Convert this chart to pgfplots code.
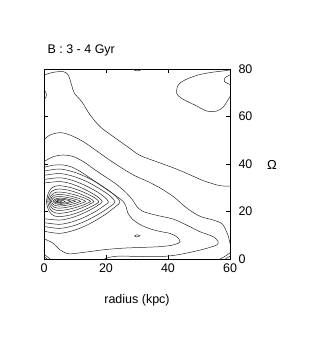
\documentclass[border=0pt]{standalone}
\usepackage{fontspec}
\setmainfont{Liberation Sans}
\usepackage{pgfplots}
\pgfplotsset{compat=1.18}
\pgfplotsset{cont/.style={black!85, line width=0.5pt, smooth, tension=0.5}}
\begin{document}
\begin{tikzpicture}[x=1pt,y=1pt]
\path[use as bounding box] (-44,-88) rectangle (267,259);
\begin{axis}[
  at={(0,0)}, anchor=south west,
  width=186pt, height=190pt, scale only axis,
  xmin=0,xmax=60,ymin=0,ymax=80,
  xtick={0,20,40,60}, ytick={0,20,40,60,80},
  yticklabel pos=right,
  tick align=inside,
  major tick length=4pt,
  tick style={black, line width=0.5pt},
  axis line style={black, line width=0.6pt},
  ticklabel style={font=\fontsize{12.5}{14}\selectfont},
  yticklabel style={xshift=5pt},
  xticklabel style={yshift=-1pt},
  /pgf/number format/assume math mode=true,
]
% C1
\addplot[cont] coordinates {(0,77.5) (3,78.6) (6.2,78.9) (7.8,77.5) (8.9,73.3) (9.8,69.8) (12.2,66.2) (14.8,60.8) (18.1,55.7) (22.4,51.5) (26.7,47.5) (31,43.6) (36.7,40.8) (42.5,38) (47,35.5) (51.4,33) (55.7,31.2) (58,30.7) (60,30.7)};
% C2
\addplot[cont] coordinates {(0,50.1) (1.9,52.2) (5.2,53.2) (8.4,52.2) (12.7,49.4) (17,45.5) (20.8,42) (25.1,38.3) (29.4,35) (33.7,32.5) (38,29.5) (42,26) (46,21.5) (50.3,18) (54.6,16.4) (57.3,15) (58.4,12.9) (59.5,9.4) (60,6.5)};
% T1
\addplot[cont] coordinates {(0,41) (3,43.1) (6.2,43.8) (9.5,43.1) (12.7,41) (16.5,37.5) (19.7,34.7) (22.9,31.9) (26.1,28.4) (28.5,25) (30,22) (32,20) (36,18.5) (41.7,16.8) (46,14.3) (50.3,11.5) (54.6,9.4) (56.2,7.3) (55.7,5.9) (52.5,4.5) (48.2,3.1) (42.8,1.7) (37.4,1.0) (30,1.1) (24,1.2) (21,0.7) (19.5,0)};
% T2
\addplot[cont] coordinates {(0,38.6) (3,39.5) (6,39.6) (9,38.7) (12,36.6) (15,34) (18,31.3) (21,28.6) (23.5,26.3) (25.5,24.3) (26.5,22) (27,19.5) (28.5,16.8) (31,14.5) (34,12.8) (37.4,11.6) (40.6,10.8) (42.8,9.4) (43.9,7.3) (41.7,5.9) (37.4,5.2) (32,4.9) (26,4.6) (20,4) (14,3) (9,2.2) (7.3,2.4) (5.2,3.8) (3,6.6) (0.9,8) (0,8.6)};
% L3
\addplot[cont] coordinates {(0,37) (5,37.9) (9.9,36.5) (14.75,33.8) (19.6,30) (22.9,26.75) (24.5,23.9) (22.9,21.9) (19.6,18.6) (14.75,14.85) (9.9,12.15) (5,10.8) (0,11.7)};
% L4
\addplot[cont] coordinates {(0,35.2) (5,36) (9.5,34.8) (13.95,32.5) (18.4,29.2) (21.5,26.4) (22.9,24) (21.5,22.25) (18.4,19.5) (13.95,16.3) (9.5,14) (5,12.9) (0,13.7)};
% L5
\addplot[cont] coordinates {(0,33.5) (5,34.2) (8.95,33.2) (12.9,31.2) (16.85,28.5) (19.5,26.1) (20.8,24) (19.5,22.55) (16.85,20.2) (12.9,17.5) (8.95,15.6) (5,14.6) (0,15.3)};
% L6
\addplot[cont] coordinates {(0,32) (5,32.6) (8.45,31.8) (11.9,30.1) (15.35,27.8) (17.7,25.8) (18.8,24.1) (17.7,22.9) (15.35,21) (11.9,18.8) (8.45,17.2) (5,16.4) (0,16.95)};
% L7
\addplot[cont] coordinates {(0.8,24.3) (1.43,27.9) (2.48,29.9) (3.74,30.7) (5,30.9) (8.2,30.2) (11.35,28.9) (14.5,27.1) (16.7,25.5) (17.7,24.1) (16.7,23.1) (14.5,21.6) (11.35,19.75) (8.2,18.45) (5,17.8) (3.74,18) (2.48,18.8) (1.43,20.7) (0.8,24.3) (1.43,27.9)};
% L8
\addplot[cont] coordinates {(1.2,24.3) (1.77,27.2) (2.72,28.7) (3.86,29.3) (5,29.5) (7.78,29) (10.55,27.95) (13.3,26.5) (15.2,25.25) (16.1,24.1) (15.2,23.4) (13.3,22.15) (10.55,20.75) (7.78,19.7) (5,19.2) (3.86,19.35) (2.72,19.95) (1.77,21.5) (1.2,24.3) (1.77,27.2)};
% L9
\addplot[cont] coordinates {(1.6,24.3) (2.11,26.45) (2.96,27.6) (3.98,28.1) (5,28.2) (7.5,27.8) (10,27) (12.5,25.95) (14.2,25) (15,24.2) (14.2,23.6) (12.5,22.65) (10,21.6) (7.5,20.8) (5,20.4) (3.98,20.5) (2.96,20.99) (2.11,22.15) (1.6,24.3) (2.11,26.45)};
% L10
\addplot[cont] coordinates {(2,24.3) (2.45,25.9) (3.2,26.75) (4.1,27.1) (5,27.2) (7.1,26.9) (9.2,26.3) (11.3,25.5) (12.7,24.8) (13.4,24.2) (12.7,23.8) (11.3,23.1) (9.2,22.3) (7.1,21.7) (5,21.4) (4.1,21.5) (3.2,21.85) (2.45,22.7) (2,24.3) (2.45,25.9)};
% L11
\addplot[cont] coordinates {(2.4,24.3) (2.8,25.4) (3.44,26) (4.22,26.25) (5,26.3) (6.7,26.1) (8.4,25.7) (10.1,25.15) (11.25,24.65) (11.8,24.25) (11.25,23.95) (10.1,23.45) (8.4,22.9) (6.7,22.5) (5,22.3) (4.22,22.35) (3.44,22.6) (2.8,23.2) (2.4,24.3) (2.8,25.4)};
% L12
\addplot[cont] coordinates {(2.9,24.3) (3.3,25) (4.2,25.5) (5.2,25.6) (6.5,25.5) (8,25.1) (9.5,24.6) (10.2,24.3) (9.5,24) (8,23.5) (6.5,23.1) (5.2,23) (4.2,23.1) (3.3,23.6) (2.9,24.3) (3.3,25)};
% L13
\addplot[cont] coordinates {(3.4,24.3) (3.8,24.85) (4.6,25.1) (5.6,25.15) (6.8,25) (8,24.6) (8.6,24.3) (8,24) (6.8,23.6) (5.6,23.45) (4.6,23.5) (3.8,23.75) (3.4,24.3) (3.8,24.85)};
% L14
\addplot[cont] coordinates {(3.9,24.2) (4.3,24.7) (5.2,24.8) (6.2,24.6) (6.8,24.2) (6.2,23.8) (5.2,23.7) (4.3,23.8) (3.9,24.2) (4.3,24.7)};
\addplot[cont] coordinates {(4.2,24.2) (4.6,24.45) (5.3,24.45) (5.6,24.2) (5.3,23.95) (4.6,23.95) (4.2,24.2) (4.6,24.45)};
% island
\addplot[cont] coordinates {(29.2,9.7) (30,10.2) (30.9,9.8) (30,9.3) (29.2,9.7) (30,10.2)};
% top tiny loop
\addplot[cont] coordinates {(28.8,80) (29.3,79.4) (30.2,79.2) (31.1,79.5) (31.5,80)};
% top-left corner
\addplot[cont] coordinates {(0,79.2) (0.7,80)};
% left bump
\addplot[cont] coordinates {(0,67.2) (0.6,68) (0.8,69.2) (0.5,70.4) (0,71)};
% top-right loop
\addplot[cont] coordinates {(60,79.6) (57.9,79.2) (54.1,78.6) (49.8,77.5) (45.5,75.4) (43.3,73.3) (42.8,69.8) (44.4,67.6) (48.7,64.8) (52.5,62.3) (55.7,62.3) (57.9,64.1) (60,68.4)};
% right arc
\addplot[cont] coordinates {(60,77.5) (58.4,76.3) (58.2,74.7) (60,73.5)};
% corners
\addplot[cont] coordinates {(0,2) (1,1) (2,0)};
\addplot[cont] coordinates {(0,1) (1,0)};
\addplot[cont] coordinates {(56.8,0) (58.5,1.2) (60,2.6)};
\addplot[cont] coordinates {(58.5,0) (60,1.2)};
\end{axis}
\node[anchor=base west, font=\fontsize{12.5}{14}\selectfont] at (0,205) {B : 3 - 4 Gyr};
\node[font=\fontsize{13}{14}\selectfont] at (228,94) {Ω};
\node[font=\fontsize{12.5}{14}\selectfont] at (93,-41) {radius (kpc)};
\end{tikzpicture}
\end{document}
